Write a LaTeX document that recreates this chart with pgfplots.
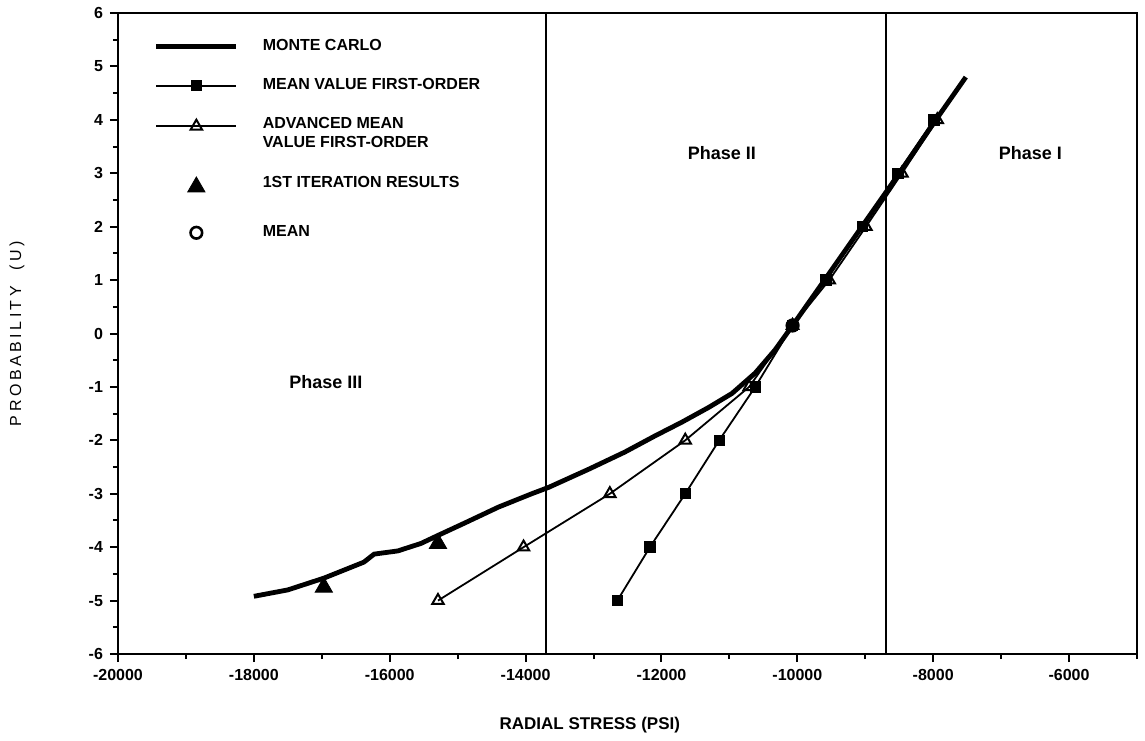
\documentclass[border=0pt]{standalone}
\usepackage{fontspec}
\setmainfont{Liberation Sans}
\newfontfamily\spacedfont[LetterSpace=22]{Liberation Sans}
\usepackage{pgfplots}
\pgfplotsset{compat=1.18}
\pgfplotsset{
  amvlegend/.style={legend image code/.code={\path (0pt,-8.5pt) (0pt,8.5pt); \draw[mark repeat=2,mark phase=2,##1] plot coordinates {(0pt,4pt) (20pt,4pt) (40pt,4pt)};}},
  iterlegend/.style={legend image code/.code={\path (0pt,-6pt) (0pt,3pt); \draw[mark repeat=2,mark phase=2,##1] plot coordinates {(0pt,-2pt) (20pt,-2pt) (40pt,-2pt)};}},
  meanlegend/.style={legend image code/.code={\path (0pt,-10pt) (0pt,10pt); \draw[mark repeat=2,mark phase=2,##1] plot coordinates {(0pt,0pt) (20pt,0pt) (40pt,0pt)};}},
}
\pgfplotstableread{
x y
-18000 -4.92
-17500 -4.80
-16970 -4.58
-16380 -4.28
-16230 -4.13
-15880 -4.07
-15540 -3.93
-15290 -3.78
-14900 -3.55
-14400 -3.25
-13910 -3.00
-13660 -2.88
-13070 -2.54
-12540 -2.22
-12100 -1.92
-11700 -1.66
-11300 -1.38
-10960 -1.12
-10620 -0.74
-10330 -0.31
-10070 0.15
-9600 1.00
-9050 2.00
-8500 3.00
-7960 4.00
-7520 4.80
}\montecarlo
\pgfplotstableread{
x y
-12650 -5
-12170 -4
-11650 -3
-11150 -2
-10620 -1
-10070 0.15
-9580 1
-9040 2
-8520 3
-7990 4
}\mvfo
\pgfplotstableread{
x y
-15290 -5
-14030 -4
-12760 -3
-11650 -2
-10710 -1
-10070 0.15
-9530 1
-8990 2
-8460 3
-7940 4
}\amvfo
\pgfplotstableread{
x y
-16970 -4.75
-15290 -3.93
}\firstiter
\pgfplotstableread{
x y
-10070 0.15
}\meanpt
\begin{document}
\begin{tikzpicture}
\useasboundingbox (-59pt,-43pt) rectangle (513.5pt,327pt);
\begin{axis}[
  at={(0,0)}, anchor=south west,
  scale only axis, width=509.5pt, height=320.5pt,
  xmin=-20000, xmax=-5000, ymin=-6, ymax=6,
  xtick={-20000,-18000,...,-6000},
  minor xtick={-19000,-17000,...,-5000},
  ytick={-6,-5,...,6},
  minor ytick={-5.5,-4.5,...,5.5},
  tick align=outside, tick pos=left,
  major tick length=4pt, minor tick length=2.5pt,
  every tick/.style={black, line width=1pt},
  axis line style={line width=1.3pt},
  scaled x ticks=false,
  /pgf/number format/assume math mode=true,
  /pgf/number format/1000 sep={},
  ticklabel style={font=\bfseries\fontsize{8}{9}\selectfont},
  xlabel={RADIAL STRESS (PSI)},
  xlabel style={at={(axis description cs:0.463,-0.1108)}, anchor=center, font=\bfseries\fontsize{8.5}{10}\selectfont},
  ylabel={PROBABILITY\ \ (U)},
  ylabel style={at={(axis description cs:-0.0991,0.5)}, anchor=center, font=\spacedfont\fontsize{8}{9}\selectfont},
  legend image code/.code={\draw[mark repeat=2,mark phase=2,#1] plot coordinates {(0pt,0pt) (20pt,0pt) (40pt,0pt)};},
  legend style={at={(axis description cs:0.029,0.972)}, anchor=north west, draw=none, fill=none,
    font=\bfseries\fontsize{8}{9.5}\selectfont, row sep=8.5pt,
    nodes={align=left, inner xsep=6pt},
    /tikz/every odd column/.append style={column sep=6pt}},
  legend cell align=left,
]
\addplot[black, line width=2.4pt, no marks] table[x=x,y=y] {\montecarlo};
\addlegendentry{MONTE CARLO}
\addplot[black, line width=0.9pt, mark=square*, mark size=2.4pt, mark options={solid, fill=black}] table[x=x,y=y] {\mvfo};
\addlegendentry{MEAN VALUE FIRST-ORDER}
\addplot[black, line width=0.9pt, mark=triangle, mark size=3.3pt, mark options={solid, fill=white, line width=1pt}, amvlegend] table[x=x,y=y] {\amvfo};
\addlegendentry{ADVANCED MEAN\\VALUE FIRST-ORDER}
\addplot[black, only marks, mark=triangle*, mark size=5pt, mark options={fill=black}, iterlegend] table[x=x,y=y] {\firstiter};
\addlegendentry{1ST ITERATION RESULTS}
\addplot[black, only marks, mark=o, mark size=2.9pt, mark options={line width=1.3pt, fill=white}, meanlegend] table[x=x,y=y] {\meanpt};
\addlegendentry{MEAN}
\addplot[black, line width=1pt, no marks, forget plot] coordinates {(-13700,-6) (-13700,6)};
\addplot[black, line width=1pt, no marks, forget plot] coordinates {(-8700,-6) (-8700,6)};
\node[font=\bfseries\fontsize{9}{10}\selectfont] at (axis cs:-16940,-0.91) {Phase III};
\node[font=\bfseries\fontsize{9}{10}\selectfont] at (axis cs:-11110,3.38) {Phase II};
\node[font=\bfseries\fontsize{9}{10}\selectfont] at (axis cs:-6570,3.38) {Phase I};
\end{axis}
\end{tikzpicture}
\end{document}
